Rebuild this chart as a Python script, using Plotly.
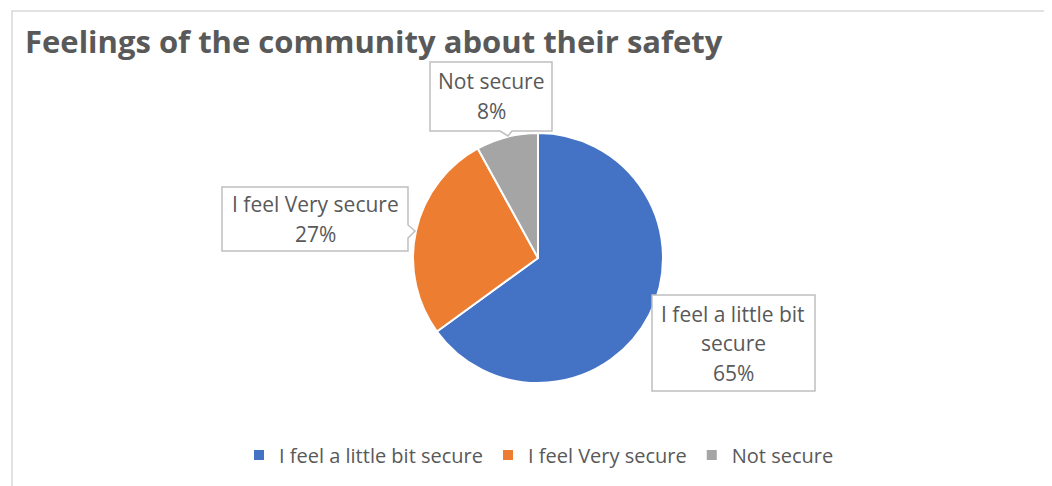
import plotly.graph_objects as go

# screen size and page body margin (default 8px in the browser)
SCREEN_W, SCREEN_H = 1052, 486
OFF = 8
W, H = SCREEN_W - OFF, SCREEN_H - OFF

categories = ["I feel a little bit secure", "I feel Very secure", "Not secure"]
values = [65, 27, 8]
colors = ["#4472C4", "#ED7D31", "#A5A5A5"]
label_lines = [["I feel a little bit", "secure", "65%"], ["I feel Very secure", "27%"], ["Not secure", "8%"]]
title_text = "Feelings of the community about their safety"

FONT = "Open Sans"
TXT = "#595959"

def fx(x):
    return (x - OFF) / W

def fy(y):
    return 1 - (y - OFF) / H

cx, cy, r = 538, 258, 125

fig = go.Figure(go.Pie(
    labels=categories,
    values=values,
    sort=False,
    direction="clockwise",
    rotation=0,
    marker=dict(colors=colors, line=dict(color="white", width=2)),
    textinfo="none",
    hoverinfo="label+percent",
    domain=dict(x=[fx(cx - r), fx(cx + r)], y=[fy(cy + r), fy(cy - r)]),
))

shapes = []
shapes.append(dict(type="rect", xref="paper", yref="paper",
                   x0=fx(12), x1=fx(SCREEN_W + 10), y0=fy(SCREEN_H + 10), y1=fy(11),
                   line=dict(color="#D9D9D9", width=1.5), fillcolor="rgba(0,0,0,0)", layer="below"))

def path_from_pts(pts):
    return "M " + " L ".join(f"{fx(x):.5f},{fy(y):.5f}" for x, y in pts) + " Z"

LINE_GAP = 29.5
callouts = [
    ([(652, 295), (815, 295), (815, 391), (652, 391)], (733, 343), 0),
    ([(222, 187), (408, 187), (408, 225), (415, 231), (408, 238), (408, 251), (222, 251)], (315, 219), 1),
    ([(430, 62), (552, 62), (552, 131), (512, 131), (508, 136), (500, 131), (430, 131)], (491, 96), 2),
]
annotations = []
for pts, (tx, ty), idx in callouts:
    shapes.append(dict(type="path", xref="paper", yref="paper", path=path_from_pts(pts),
                       line=dict(color="#BFBFBF", width=1.5), fillcolor="white", layer="above"))
    lines = label_lines[idx]
    n = len(lines)
    for k, ln in enumerate(lines):
        ly = ty + (k - (n - 1) / 2) * LINE_GAP
        annotations.append(dict(xref="paper", yref="paper", x=fx(tx), y=fy(ly),
                                text=ln, showarrow=False,
                                xanchor="center", yanchor="middle",
                                font=dict(family=FONT, size=21, color=TXT)))

annotations.append(dict(xref="paper", yref="paper", x=fx(23), y=fy(41), text="<b>" + title_text + "</b>",
                        showarrow=False, xanchor="left", yanchor="middle",
                        font=dict(family=FONT, size=31, color=TXT)))

fig.update_layout(
    width=W, height=H,
    margin=dict(l=0, r=0, t=0, b=0),
    paper_bgcolor="white", plot_bgcolor="white",
    shapes=shapes,
    annotations=annotations,
    showlegend=True,
    legend=dict(orientation="h", x=fx(539), xanchor="center", y=fy(455), yanchor="middle",
                font=dict(family=FONT, size=20, color=TXT), itemwidth=30,
                traceorder="normal"),
)

fig.write_html("out.html")
